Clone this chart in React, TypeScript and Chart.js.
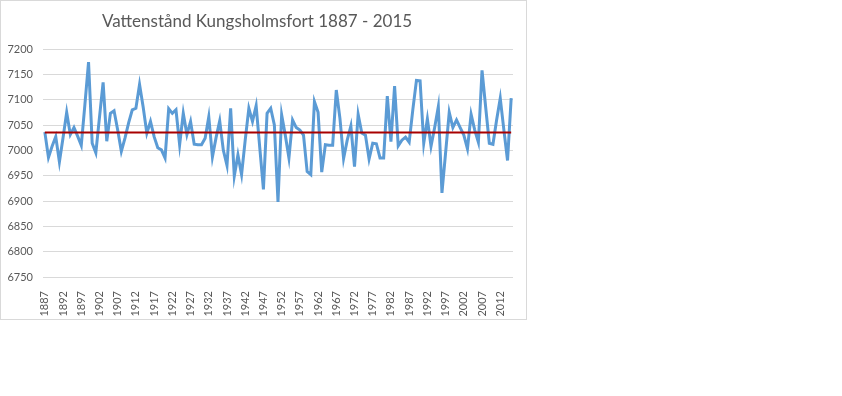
import React, { useEffect, useRef } from 'react';
import { Chart, registerables } from 'chart.js';

Chart.register(...registerables);

const TITLE = 'Vattenstånd Kungsholmsfort 1887 - 2015';

const FIRST_YEAR = 1887;
const LAST_YEAR = 2015;
const YEARS: string[] = Array.from({ length: LAST_YEAR - FIRST_YEAR + 1 }, (_, i) => String(FIRST_YEAR + i));

// Water level (mm) per year
const LEVELS: number[] = [
  7036, 6986, 7008, 7027, 6977, 7025, 7075, 7031, 7045, 7028, // 1887-1896
  7010, 7090, 7174, 7014, 6995, 7065, 7134, 7018, 7073, 7078, // 1897-1906
  7040, 6998, 7024, 7054, 7080, 7083, 7130, 7085, 7034, 7057, // 1907-1916
  7027, 7005, 7001, 6985, 7082, 7073, 7080, 7011, 7073, 7031, // 1917-1926
  7057, 7012, 7011, 7011, 7024, 7066, 6987, 7025, 7058, 7000, // 1927-1936
  6970, 7083, 6949, 6991, 6952, 7020, 7083, 7057, 7088, 7005, // 1937-1946
  6923, 7073, 7083, 7050, 6898, 7070, 7030, 6985, 7060, 7045, // 1947-1956
  7040, 7030, 6958, 6952, 7096, 7075, 6957, 7011, 7010, 7010, // 1957-1966
  7119, 7063, 6984, 7020, 7048, 6968, 7071, 7034, 7030, 6983, // 1967-1976
  7014, 7013, 6985, 6985, 7107, 7017, 7127, 7009, 7020, 7026, // 1977-1986
  7016, 7080, 7138, 7137, 7014, 7062, 7008, 7045, 7086, 6916, // 1987-1996
  6995, 7075, 7045, 7060, 7045, 7030, 7003, 7071, 7040, 7016, // 1997-2006
  7158, 7085, 7014, 7012, 7060, 7103, 7040, 6980, 7103,       // 2007-2015
];

// Mean level (horizontal red line)
const MEAN_LEVEL = 7035;

const Y_MIN = 6750;
const Y_MAX = 7200;
const Y_STEP = 50;
const LABEL_EVERY = 5;

const TEXT_COLOR = '#595959';
const FONT = "Lato, 'Liberation Sans', sans-serif";

export default function App() {
  const ref = useRef<HTMLCanvasElement>(null);

  useEffect(() => {
    if (!ref.current) return;
    const chart = new Chart(ref.current, {
      type: 'line',
      data: {
        labels: YEARS,
        datasets: [
          {
            label: 'Medel',
            data: YEARS.map(() => MEAN_LEVEL),
            borderColor: '#A80000',
            backgroundColor: '#A80000',
            borderWidth: 2,
            pointRadius: 0,
            fill: false,
          },
          {
            label: 'Vattenstånd',
            data: LEVELS,
            borderColor: '#5B9BD5',
            backgroundColor: '#5B9BD5',
            borderWidth: 3,
            pointRadius: 0,
            fill: false,
            tension: 0,
          },
        ],
      },
      options: {
        animation: false,
        responsive: false,
        maintainAspectRatio: false,
        layout: { padding: { left: 0, right: 13, top: 0, bottom: 0 } },
        plugins: {
          legend: { display: false },
          tooltip: { enabled: false },
          title: {
            display: true,
            text: TITLE,
            color: TEXT_COLOR,
            font: { family: FONT, size: 17, weight: 'normal' },
            padding: { top: 10, bottom: 17.6 },
          },
        },
        scales: {
          x: {
            offset: true,
            grid: { display: false },
            border: { display: false },
            ticks: {
              autoSkip: false,
              minRotation: 90,
              maxRotation: 90,
              padding: 6,
              color: TEXT_COLOR,
              font: { family: FONT, size: 11 },
              callback: (_v: any, i: number) => (i % LABEL_EVERY === 0 ? YEARS[i] : null),
            },
            afterFit: (a: any) => {
              a.height = 42;
            },
          },
          y: {
            min: Y_MIN,
            max: Y_MAX,
            grid: { color: '#D9D9D9', drawTicks: false },
            border: { display: false },
            ticks: {
              stepSize: Y_STEP,
              padding: 10,
              color: TEXT_COLOR,
              font: { family: FONT, size: 11 },
              callback: (v: any) => String(v),
            },
            afterFit: (a: any) => {
              a.width = 42;
            },
          },
        },
      },
    });
    return () => chart.destroy();
  }, []);

  return (
    <div
      style={{
        position: 'absolute',
        left: 0,
        top: 0,
        width: 527,
        height: 320,
        boxSizing: 'border-box',
        border: '1px solid #D9D9D9',
        background: '#FFFFFF',
      }}
    >
      <canvas ref={ref} width={525} height={318} style={{ display: 'block', width: 525, height: 318 }} />
    </div>
  );
}
